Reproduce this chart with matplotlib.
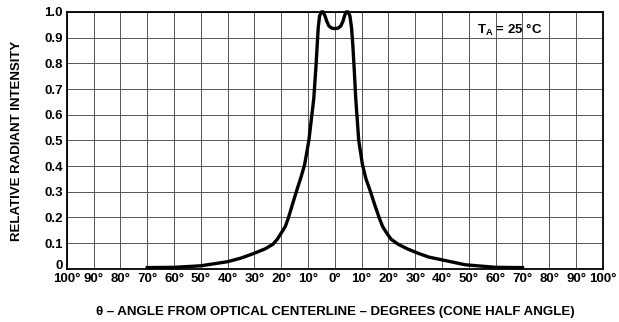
import numpy as np
import matplotlib
matplotlib.use('Agg')
import matplotlib.pyplot as plt
import matplotlib.transforms as mtransforms

plt.rcParams['font.family'] = ['Liberation Sans', 'DejaVu Sans']
plt.rcParams['mathtext.fontset'] = 'custom'
plt.rcParams['mathtext.bf'] = 'Liberation Sans:bold'
plt.rcParams['mathtext.rm'] = 'Liberation Sans:bold'

# angle (deg) and relative radiant intensity
angle = [-70, -60, -50, -40, -35, -30, -26, -23.1, -21.5, -20, -18.5, -17.3, -16, -14.4,
         -12.7, -11.3, -9.7, -7.9,
         -7.1, -6.6, -6.2, -5.7, -5.0, -4.4, -3.7, -3.0, -2.2, -1.2, 0,
         1.2, 2.2, 3.0, 3.6, 4.2, 4.9, 5.6, 6.2, 6.7, 7.2,
         7.8, 8.9, 10.3, 11.6, 13.3, 15, 16.5, 17.8, 19.3, 21, 23.6, 27, 31, 35,
         40, 48.6, 60, 70]
intensity = [0.005, 0.006, 0.012, 0.028, 0.042, 0.061, 0.078, 0.096, 0.115, 0.14, 0.165, 0.20, 0.245, 0.30,
             0.355, 0.405, 0.50, 0.66,
             0.78, 0.87, 0.94, 0.985, 1.0, 1.0, 0.985, 0.963, 0.945, 0.937, 0.935,
             0.937, 0.945, 0.963, 0.985, 1.0, 1.0, 0.985, 0.94, 0.87, 0.78,
             0.66, 0.50, 0.405, 0.35, 0.30, 0.245, 0.20, 0.165, 0.14, 0.115, 0.096, 0.078, 0.061, 0.046,
             0.035, 0.016, 0.006, 0.005]

xticks = list(range(-100, 101, 10))
xlabels = [f'{abs(t)}°' for t in xticks]
yticks = [round(0.1 * i, 1) for i in range(11)]
ylabels = ['0'] + [f'{v:.1f}' for v in yticks[1:]]

fig = plt.figure(figsize=(6.19, 3.22), dpi=100)
ax = fig.add_axes([0.108, 0.165, 0.866, 0.798])

ax.plot(angle, intensity, color='black', linewidth=2.4, solid_joinstyle='round',
        clip_on=False, zorder=3)

ax.set_xlim(-100, 100)
ax.set_ylim(0, 1.0)
ax.set_xticks(xticks)
ax.set_xticklabels(xlabels, fontsize=9.5, fontweight='bold')
ax.set_yticks(yticks)
ax.set_yticklabels(ylabels, fontsize=9.5, fontweight='bold')
ax.tick_params(length=0, pad=3)
ax.tick_params(axis='x', pad=3)
ax.grid(True, color='#555555', linewidth=0.7)
for s in ax.spines.values():
    s.set_linewidth(1.3)
    s.set_color('black')

# lift the "0" label a little so it clears the 100° label below it
zero = ax.get_yticklabels()[0]
zero.set_transform(zero.get_transform() +
                   mtransforms.ScaledTranslation(0, 3 / 72, fig.dpi_scale_trans))

ax.set_ylabel('RELATIVE RADIANT INTENSITY', fontsize=9.5, fontweight='bold', labelpad=15)
ax.set_xlabel('θ – ANGLE FROM OPTICAL CENTERLINE – DEGREES (CONE HALF ANGLE)',
              fontsize=9.5, fontweight='bold', labelpad=15)

ax.text(0.765, 0.93, r'$\mathbf{T_A}$ = 25 °C', transform=ax.transAxes,
        fontsize=9.5, fontweight='bold', va='center', ha='left')

fig.savefig('out.png', dpi=100)
